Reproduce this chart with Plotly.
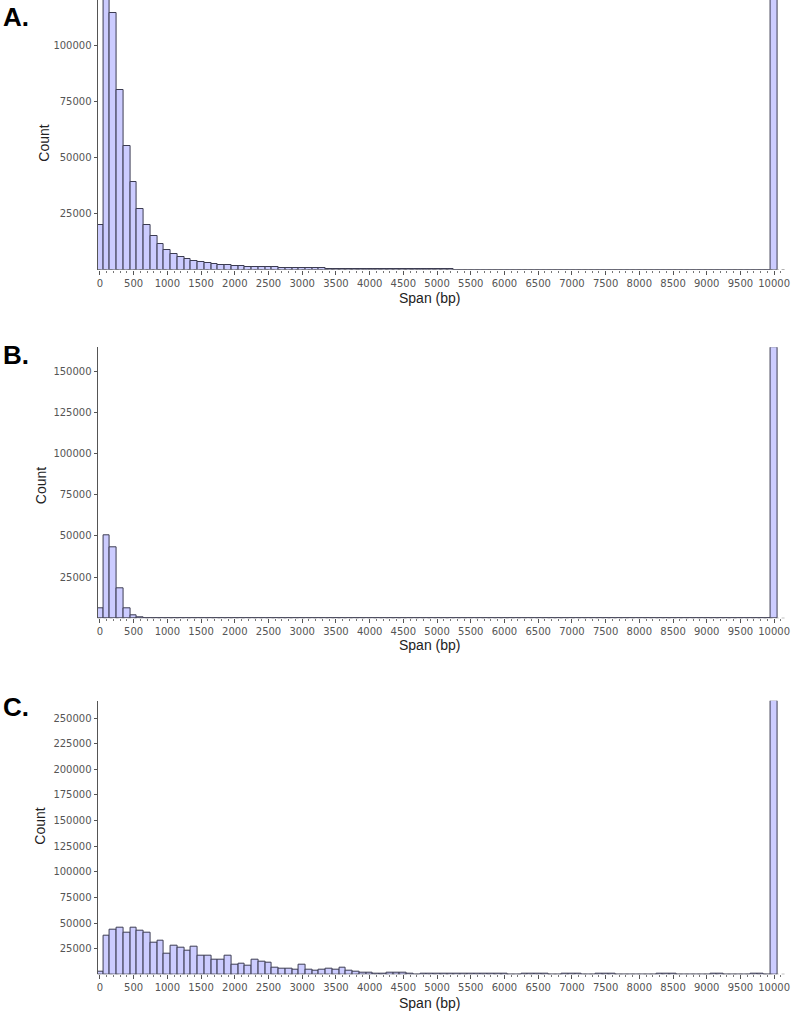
import plotly.graph_objects as go

W, H = 800, 1013

# Span bins (bp), centres of 100-bp bins
span_bins = list(range(0, 10001, 100))

counts_a = [
    20000, 121000, 114400, 80000, 55300, 38900, 26900, 20000, 14800, 11200,
    8700, 6900, 5700, 4500, 3600, 3400, 2800, 2400, 2100, 1800,
    1700, 1400, 1300, 1250, 1100, 1000, 900, 800, 750, 650,
    600, 550, 500, 450, 400, 350, 320, 300, 280, 260,
    240, 220, 200, 190, 180, 170, 160, 150, 140, 130,
    120, 110, 100, 0, 0, 0, 0, 0, 0, 0,
    0, 0, 0, 0, 0, 0, 0, 0, 0, 0,
    0, 0, 0, 0, 0, 0, 0, 0, 0, 0,
    0, 0, 0, 0, 0, 0, 0, 0, 0, 0,
    0, 0, 0, 0, 0, 0, 0, 0, 0, 0,
    121000,
]

counts_b = [
    6100, 50500, 43300, 18200, 5800, 1800, 500, 300, 200, 0,
    0, 0, 0, 0, 0, 0, 0, 0, 0, 0,
    0, 0, 0, 0, 0, 0, 0, 0, 0, 0,
    0, 0, 0, 0, 0, 0, 0, 0, 0, 0,
    0, 0, 0, 0, 0, 0, 0, 0, 0, 0,
    0, 0, 0, 0, 0, 0, 0, 0, 0, 0,
    0, 0, 0, 0, 0, 0, 0, 0, 0, 0,
    0, 0, 0, 0, 0, 0, 0, 0, 0, 0,
    0, 0, 0, 0, 0, 0, 0, 0, 0, 0,
    0, 0, 0, 0, 0, 0, 0, 0, 0, 0,
    164500,
]

counts_c = [
    2500, 37400, 43900, 45500, 41000, 45500, 42900, 41000, 31200, 33200,
    20500, 27600, 25650, 22700, 26600, 18150, 18150, 14250, 14250, 18150,
    9750, 10700, 8100, 14600, 12700, 11300, 6800, 5850, 5850, 4200,
    9750, 4200, 3600, 4200, 5200, 4200, 6000, 3600, 2600, 1950,
    2000, 650, 650, 1950, 1300, 1950, 300, 100, 975, 650,
    975, 300, 975, 300, 300, 200, 200, 300, 975, 200,
    200, 0, 100, 500, 800, 600, 300, 100, 0, 200,
    400, 300, 0, 0, 200, 300, 200, 0, 0, 0,
    0, 0, 0, 300, 300, 200, 0, 0, 0, 0,
    0, 300, 200, 0, 0, 0, 0, 200, 300, 0,
    267000,
]

x_ticks = list(range(0, 10001, 500))
y_ticks_a = [25000, 50000, 75000, 100000]
y_ticks_b = [25000, 50000, 75000, 100000, 125000, 150000]
y_ticks_c = [25000, 50000, 75000, 100000, 125000, 150000, 175000, 200000, 225000, 250000]

panels = [
    dict(label="A.", counts=counts_a, yt=y_ticks_a, ymax=120300, top=0, bottom=269.5,
         lab_y=17, count_y=143, count_x=43, span_y=298),
    dict(label="B.", counts=counts_b, yt=y_ticks_b, ymax=164500, top=347.3, bottom=618.3,
         lab_y=355, count_y=485.5, count_x=41, span_y=645),
    dict(label="C.", counts=counts_c, yt=y_ticks_c, ymax=267000, top=700.7, bottom=974.3,
         lab_y=707, count_y=826, count_x=39, span_y=1003),
]

x_left_px, x_right_px = 97.3, 790
fig = go.Figure()
annotations = []
shapes = []
layout = dict(
    width=W, height=H, margin=dict(l=0, r=0, t=0, b=0),
    paper_bgcolor="white", plot_bgcolor="white", showlegend=False,
    bargap=0,
)

tick_font = dict(family="DejaVu Sans", size=10, color="#555555")
title_font = dict(family="Liberation Sans, Arial", size=14, color="#222222")

for i, p in enumerate(panels):
    n = "" if i == 0 else str(i + 1)
    xa, ya = "x" + n, "y" + n
    fig.add_trace(go.Bar(
        x=span_bins, y=p["counts"], width=100,
        marker=dict(color="#ccccff", line=dict(color="#3c3c52", width=1)),
        xaxis=xa, yaxis=ya, hoverinfo="x+y",
    ))
    ydom = [1 - p["bottom"] / H, 1 - p["top"] / H]
    layout["xaxis" + n] = dict(
        domain=[x_left_px / W, x_right_px / W], anchor=ya,
        range=[-35, 10162], tickvals=x_ticks, ticktext=[str(v) for v in x_ticks],
        ticks="outside", ticklen=4, tickcolor="#555555", tickfont=tick_font,
        showline=False, showgrid=False, zeroline=False,
        minor=dict(dtick=100, tick0=0, ticks="outside", ticklen=2, tickcolor="#777777"),
    )
    layout["yaxis" + n] = dict(
        domain=ydom, anchor=xa, range=[0, p["ymax"]],
        tickvals=p["yt"], ticktext=[str(v) for v in p["yt"]],
        ticks="outside", ticklen=3, tickcolor="#555555", tickfont=tick_font,
        showline=True, linecolor="#555555", linewidth=1,
        showgrid=False, zeroline=False,
    )
    # dashed baseline of the x axis
    shapes.append(dict(type="line", xref=xa + " domain", yref=ya,
                       x0=0, x1=1, y0=0, y1=0,
                       line=dict(color="#666666", width=1, dash="dot")))
    annotations.append(dict(text="<b>" + p["label"] + "</b>", xref="paper", yref="paper",
                            x=0 / W, y=1 - p["lab_y"] / H, xanchor="left", yanchor="middle",
                            showarrow=False,
                            font=dict(family="Liberation Sans, Arial", size=26, color="black")))
    annotations.append(dict(text="Count", xref="paper", yref="paper",
                            x=p["count_x"] / W, y=1 - p["count_y"] / H,
                            xanchor="center", yanchor="middle", textangle=-90,
                            showarrow=False, font=title_font))
    annotations.append(dict(text="Span (bp)", xref="paper", yref="paper",
                            x=432 / W, y=1 - p["span_y"] / H,
                            xanchor="center", yanchor="middle",
                            showarrow=False, font=title_font))

layout["annotations"] = annotations
layout["shapes"] = shapes
fig.update_layout(**layout)
fig.write_html(
    "out.html",
    config={"displayModeBar": False},
    post_script="document.body.style.margin='0';document.body.style.overflow='hidden';",
)
